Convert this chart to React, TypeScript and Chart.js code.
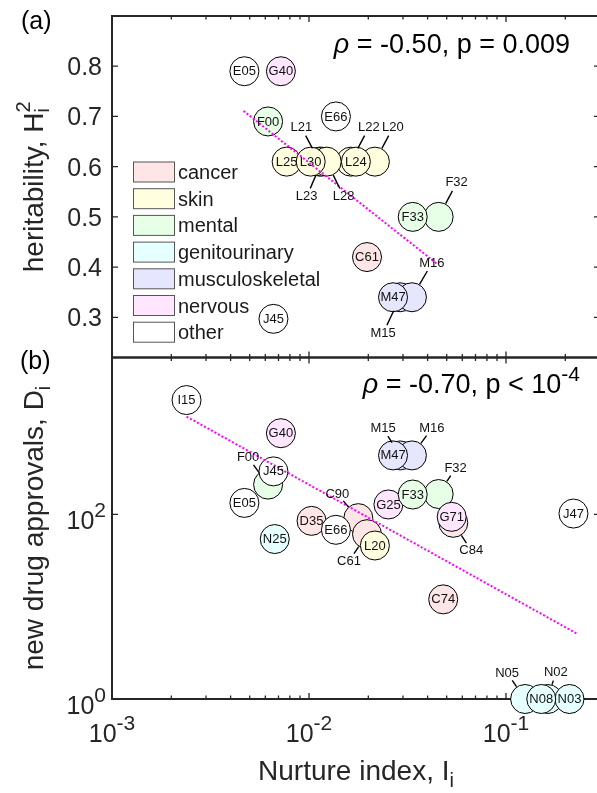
import React, { useEffect, useRef } from "react";
import { Chart, registerables } from "chart.js";

Chart.register(...registerables);

const FONT = "'Liberation Sans', Arial, Helvetica, sans-serif";
const AXIS_COLOR = "#262626";

// ---------- categories ----------
const CATEGORIES = ["cancer", "skin", "mental", "genitourinary", "musculoskeletal", "nervous", "other"];
const CATEGORY_COLORS = ["#FFE6E6", "#FFFFE0", "#E6FFE6", "#E6FFFF", "#E6E6FF", "#FFE6FF", "#FFFFFF"];

// ---------- shared x axis ----------
const X_MIN = 0.001;
const X_MAX = 0.3;
const X_MAJOR_TICKS = [0.001, 0.01, 0.1];
const X_TICK_EXPONENTS = ["-3", "-2", "-1"];

// ---------- panel (a): heritability ----------
const A_Y_MIN = 0.22;
const A_Y_MAX = 0.9;
const A_Y_TICKS = [0.3, 0.4, 0.5, 0.6, 0.7, 0.8];
const A_Y_TICK_LABELS = ["0.3", "0.4", "0.5", "0.6", "0.7", "0.8"];

const A_CODES = ["J45", "E05", "G40", "E66", "F00", "L22", "L21", "L23", "L28", "L25", "L30", "L20", "L24", "C61", "F32", "F33", "M15", "M16", "M47"];
const A_CATEGORY = ["other", "other", "nervous", "other", "mental", "skin", "skin", "skin", "skin", "skin", "skin", "skin", "skin", "cancer", "mental", "mental", "musculoskeletal", "musculoskeletal", "musculoskeletal"];
const A_NURTURE = [0.0066, 0.0047, 0.0072, 0.0137, 0.0062, 0.0163, 0.0113, 0.0116, 0.0123, 0.0077, 0.0102, 0.0216, 0.0173, 0.0197, 0.0455, 0.0336, 0.029, 0.0333, 0.0267];
const A_HERITABILITY = [0.297, 0.79, 0.79, 0.70, 0.69, 0.61, 0.61, 0.61, 0.61, 0.61, 0.61, 0.61, 0.61, 0.42, 0.50, 0.50, 0.34, 0.34, 0.34];
const A_FIT_X = [0.00465, 0.0445];
const A_FIT_Y = [0.711, 0.407];
const A_STATS = " = -0.50, p = 0.009";

// ---------- panel (b): new drug approvals ----------
const B_Y_MIN = 1;
const B_Y_MAX = 5000;
const B_Y_TICKS = [1, 100];
const B_Y_TICK_EXPONENTS = ["0", "2"];

const B_CODES = ["I15", "G40", "F00", "J45", "E05", "N25", "M15", "M16", "M47", "D35", "C90", "C61", "E66", "L20", "G25", "F32", "F33", "C84", "G71", "J47", "C74", "N05", "N02", "N03", "N08"];
const B_CATEGORY = ["other", "nervous", "mental", "other", "other", "genitourinary", "musculoskeletal", "musculoskeletal", "musculoskeletal", "cancer", "cancer", "cancer", "other", "skin", "nervous", "mental", "mental", "cancer", "nervous", "other", "cancer", "genitourinary", "genitourinary", "genitourinary", "genitourinary"];
const B_NURTURE = [0.00239, 0.0072, 0.0062, 0.0066, 0.0047, 0.0067, 0.029, 0.0333, 0.0267, 0.0103, 0.0178, 0.0197, 0.0137, 0.0216, 0.0253, 0.0455, 0.0336, 0.054, 0.053, 0.22, 0.048, 0.125, 0.163, 0.21, 0.151];
const B_APPROVALS = [1730, 757, 210, 292, 133, 54, 435, 435, 435, 85, 91, 61, 68, 46, 128, 166, 164, 81, 94, 102, 12, 1, 1, 1, 1];
const B_FIT_X = [0.00239, 0.229];
const B_FIT_Y = [1145, 5.1];
const B_STATS = " = -0.70, p < 10";
const B_STATS_EXP = "-4";

// external label offsets (px) for circles whose code sits outside
const A_CALLOUTS: Record<string, [number, number]> = {
  L21: [-18, -34], L23: [-15, 35], L28: [17, 35], L22: [18, -34], L20: [18, -34],
  F32: [18, -34], M16: [20, -34], M15: [-17, 36],
};
const B_CALLOUTS: Record<string, [number, number]> = {
  F00: [-20, -27], M15: [-17, -27], M16: [20, -27], F32: [17, -26], C90: [-21, -24],
  C61: [-18, 27], C84: [18, 28], N05: [-18, -26], N02: [8, -27],
};

// ---------- drawing helpers ----------
type Seg = { t: string; size: number; dy?: number; italic?: boolean; hold?: boolean };

function setFont(ctx: CanvasRenderingContext2D, size: number, italic = false) {
  ctx.font = `${italic ? "italic " : ""}${size}px ${FONT}`;
}

function segsWidth(ctx: CanvasRenderingContext2D, segs: Seg[]) {
  let w = 0;
  let held = 0;
  for (const s of segs) {
    setFont(ctx, s.size, s.italic);
    const m = ctx.measureText(s.t).width;
    if (s.hold) held = Math.max(held, m);
    else {
      w += Math.max(m, held);
      held = 0;
    }
  }
  return w + held;
}

function drawSegs(ctx: CanvasRenderingContext2D, segs: Seg[], x: number, y: number, align: "left" | "center" | "right") {
  const total = segsWidth(ctx, segs);
  let cx = align === "left" ? x : align === "right" ? x - total : x - total / 2;
  ctx.textAlign = "left";
  ctx.textBaseline = "alphabetic";
  let held = 0;
  for (const s of segs) {
    setFont(ctx, s.size, s.italic);
    const m = ctx.measureText(s.t).width;
    ctx.fillText(s.t, cx, y + (s.dy || 0));
    if (s.hold) held = Math.max(held, m);
    else {
      cx += Math.max(m, held);
      held = 0;
    }
  }
}

function xMinorTicks() {
  const out: number[] = [];
  for (let e = -3; e <= -1; e++) {
    for (let k = 2; k <= 9; k++) {
      const v = k * Math.pow(10, e);
      if (v > X_MIN && v < X_MAX) out.push(v);
    }
  }
  return out;
}

type Panel = {
  codes: string[];
  cats: string[];
  xs: number[];
  ys: number[];
  fitX: number[];
  fitY: number[];
  yType: "linear" | "logarithmic";
  yMin: number;
  yMax: number;
  yTicks: number[];
  padTop: number;
  padBottom: number;
  callouts: Record<string, [number, number]>;
  decorateBefore: (ctx: CanvasRenderingContext2D, chart: any) => void;
  decorateAfter: (ctx: CanvasRenderingContext2D, chart: any) => void;
};

const CANVAS_W = 620;
const CANVAS_H = 793;
const MAJOR_LEN = 6;
const MINOR_LEN = 3.5;

function boxAndTicks(ctx: CanvasRenderingContext2D, chart: any, yTicks: number[]) {
  const { left, right, top, bottom } = chart.chartArea;
  const sx = chart.scales.x;
  const sy = chart.scales.y;
  ctx.save();
  ctx.strokeStyle = AXIS_COLOR;
  ctx.lineWidth = 2;
  ctx.strokeRect(left, top, right - left, bottom - top);
  ctx.lineWidth = 1.3;
  ctx.beginPath();
  const tick = (v: number, len: number) => {
    const px = sx.getPixelForValue(v);
    ctx.moveTo(px, bottom);
    ctx.lineTo(px, bottom - len);
    ctx.moveTo(px, top);
    ctx.lineTo(px, top + len);
  };
  X_MAJOR_TICKS.forEach((v) => tick(v, MAJOR_LEN));
  xMinorTicks().forEach((v) => tick(v, MINOR_LEN));
  yTicks.forEach((v) => {
    const py = sy.getPixelForValue(v);
    ctx.moveTo(left, py);
    ctx.lineTo(left + MAJOR_LEN, py);
    ctx.moveTo(right, py);
    ctx.lineTo(right - MAJOR_LEN, py);
  });
  ctx.stroke();
  ctx.restore();
}

function pointLabels(ctx: CanvasRenderingContext2D, chart: any, p: Panel) {
  const sx = chart.scales.x;
  const sy = chart.scales.y;
  ctx.save();
  ctx.fillStyle = "#111";
  ctx.strokeStyle = "#000";
  ctx.lineWidth = 1.4;
  p.codes.forEach((code, i) => {
    const px = sx.getPixelForValue(p.xs[i]);
    const py = sy.getPixelForValue(p.ys[i]);
    const c = p.callouts[code];
    setFont(ctx, 13);
    ctx.textAlign = "center";
    ctx.textBaseline = "middle";
    if (c) {
      const [dx, dy] = c;
      const d = Math.hypot(dx, dy);
      const ux = dx / d;
      const uy = dy / d;
      ctx.beginPath();
      ctx.moveTo(px + ux * 15, py + uy * 15);
      ctx.lineTo(px + ux * (d - 9), py + uy * (d - 9));
      ctx.stroke();
      ctx.fillText(code, px + dx, py + dy);
    } else {
      ctx.fillText(code, px, py + 0.5);
    }
  });
  ctx.restore();
}

const PANEL_A: Panel = {
  codes: A_CODES,
  cats: A_CATEGORY,
  xs: A_NURTURE,
  ys: A_HERITABILITY,
  fitX: A_FIT_X,
  fitY: A_FIT_Y,
  yType: "linear",
  yMin: A_Y_MIN,
  yMax: A_Y_MAX,
  yTicks: A_Y_TICKS,
  padTop: 16,
  padBottom: CANVAS_H - 357.5,
  callouts: A_CALLOUTS,
  decorateBefore: (ctx, chart) => {
    const sy = chart.scales.y;
    ctx.save();
    ctx.fillStyle = AXIS_COLOR;
    setFont(ctx, 25);
    ctx.textAlign = "right";
    ctx.textBaseline = "alphabetic";
    A_Y_TICKS.forEach((v, i) => {
      ctx.fillText(A_Y_TICK_LABELS[i], 102, sy.getPixelForValue(v) + 9);
    });
    // y title
    ctx.translate(43, 186.8);
    ctx.rotate(-Math.PI / 2);
    drawSegs(ctx, [
      { t: "heritability, H", size: 28 },
      { t: "2", size: 20, dy: -13, hold: true },
      { t: "i", size: 20, dy: 6 },
    ], 0, 0, "center");
    ctx.restore();
    ctx.save();
    ctx.fillStyle = "#000";
    drawSegs(ctx, [{ t: "(a)", size: 25 }], 21, 29, "left");
    ctx.restore();
  },
  decorateAfter: (ctx) => {
    ctx.save();
    ctx.fillStyle = "#000";
    drawSegs(ctx, [
      { t: "ρ", size: 27, italic: true },
      { t: A_STATS, size: 27 },
    ], 570, 53, "right");
    // legend
    CATEGORIES.forEach((name, i) => {
      const top = 162 + 26.7 * i;
      ctx.fillStyle = CATEGORY_COLORS[i];
      ctx.fillRect(133.5, top, 41, 20);
      ctx.strokeStyle = "#555";
      ctx.lineWidth = 1;
      ctx.strokeRect(133.5, top, 41, 20);
      ctx.fillStyle = "#1a1a1a";
      drawSegs(ctx, [{ t: name, size: 20 }], 178, top + 17, "left");
    });
    ctx.restore();
  },
};

const PANEL_B: Panel = {
  codes: B_CODES,
  cats: B_CATEGORY,
  xs: B_NURTURE,
  ys: B_APPROVALS,
  fitX: B_FIT_X,
  fitY: B_FIT_Y,
  yType: "logarithmic",
  yMin: B_Y_MIN,
  yMax: B_Y_MAX,
  yTicks: B_Y_TICKS,
  padTop: 357.5,
  padBottom: CANVAS_H - 699,
  callouts: B_CALLOUTS,
  decorateBefore: (ctx, chart) => {
    const sx = chart.scales.x;
    const sy = chart.scales.y;
    ctx.save();
    ctx.fillStyle = AXIS_COLOR;
    X_MAJOR_TICKS.forEach((v, i) => {
      drawSegs(ctx, [
        { t: "10", size: 25 },
        { t: X_TICK_EXPONENTS[i], size: 21, dy: -12 },
      ], sx.getPixelForValue(v), 742, "center");
    });
    B_Y_TICKS.forEach((v, i) => {
      drawSegs(ctx, [
        { t: "10", size: 25 },
        { t: B_Y_TICK_EXPONENTS[i], size: 21, dy: -12 },
      ], 106, sy.getPixelForValue(v) + 14.5, "right");
    });
    drawSegs(ctx, [
      { t: "Nurture index, I", size: 28 },
      { t: "i", size: 20, dy: 7 },
    ], 356, 780, "center");
    ctx.translate(43, 528);
    ctx.rotate(-Math.PI / 2);
    drawSegs(ctx, [
      { t: "new drug approvals, D", size: 28 },
      { t: "i", size: 20, dy: 7 },
    ], 0, 0, "center");
    ctx.restore();
    ctx.save();
    ctx.fillStyle = "#000";
    drawSegs(ctx, [{ t: "(b)", size: 25 }], 20, 369, "left");
    ctx.restore();
  },
  decorateAfter: (ctx) => {
    ctx.save();
    ctx.fillStyle = "#000";
    drawSegs(ctx, [
      { t: "ρ", size: 27, italic: true },
      { t: B_STATS, size: 27 },
      { t: B_STATS_EXP, size: 21, dy: -12 },
    ], 580, 393, "right");
    ctx.restore();
  },
};

function makeChart(canvas: HTMLCanvasElement, p: Panel) {
  const colorOf = (cat: string) => CATEGORY_COLORS[CATEGORIES.indexOf(cat)];
  const plugin = {
    id: "decor",
    beforeDatasetsDraw(chart: any) {
      const ctx = chart.ctx as CanvasRenderingContext2D;
      boxAndTicks(ctx, chart, p.yTicks);
      p.decorateBefore(ctx, chart);
    },
    afterDatasetsDraw(chart: any) {
      const ctx = chart.ctx as CanvasRenderingContext2D;
      pointLabels(ctx, chart, p);
      p.decorateAfter(ctx, chart);
    },
  };
  return new Chart(canvas, {
    type: "scatter",
    data: {
      datasets: [
        {
          type: "line",
          data: p.fitX.map((x, i) => ({ x, y: p.fitY[i] })),
          borderColor: "#FF00FF",
          borderWidth: 2,
          borderDash: [2, 2],
          pointRadius: 0,
          fill: false,
          order: 0,
          clip: false,
        } as any,
        {
          data: p.xs.map((x, i) => ({ x, y: p.ys[i] })),
          pointRadius: 14.5,
          pointHoverRadius: 14.5,
          pointBackgroundColor: p.cats.map(colorOf),
          pointBorderColor: "#000",
          pointBorderWidth: 1,
          order: 1,
          clip: false,
        } as any,
      ],
    },
    options: {
      responsive: false,
      animation: false,
      events: [],
      layout: { padding: { left: 112, right: CANVAS_W - 600, top: p.padTop, bottom: p.padBottom } },
      plugins: { legend: { display: false }, tooltip: { enabled: false } },
      scales: {
        x: {
          type: "logarithmic",
          min: X_MIN,
          max: X_MAX,
          ticks: { display: false },
          grid: { display: false },
          border: { display: false },
          afterFit: (s: any) => { s.height = 0; },
        },
        y: {
          type: p.yType,
          min: p.yMin,
          max: p.yMax,
          ticks: { display: false },
          grid: { display: false },
          border: { display: false },
          afterFit: (s: any) => { s.width = 0; },
        },
      },
    } as any,
    plugins: [plugin],
  });
}

export default function App() {
  const refA = useRef<HTMLCanvasElement>(null);
  const refB = useRef<HTMLCanvasElement>(null);
  useEffect(() => {
    const a = makeChart(refA.current!, PANEL_A);
    const b = makeChart(refB.current!, PANEL_B);
    return () => {
      a.destroy();
      b.destroy();
    };
  }, []);
  const canvasStyle: React.CSSProperties = { position: "absolute", left: 0, top: 0, width: CANVAS_W, height: CANVAS_H };
  return (
    <div style={{ position: "fixed", left: 0, top: 0, width: 597, height: 793, overflow: "hidden", background: "#fff" }}>
      <canvas ref={refA} width={CANVAS_W} height={CANVAS_H} style={canvasStyle} />
      <canvas ref={refB} width={CANVAS_W} height={CANVAS_H} style={canvasStyle} />
    </div>
  );
}
